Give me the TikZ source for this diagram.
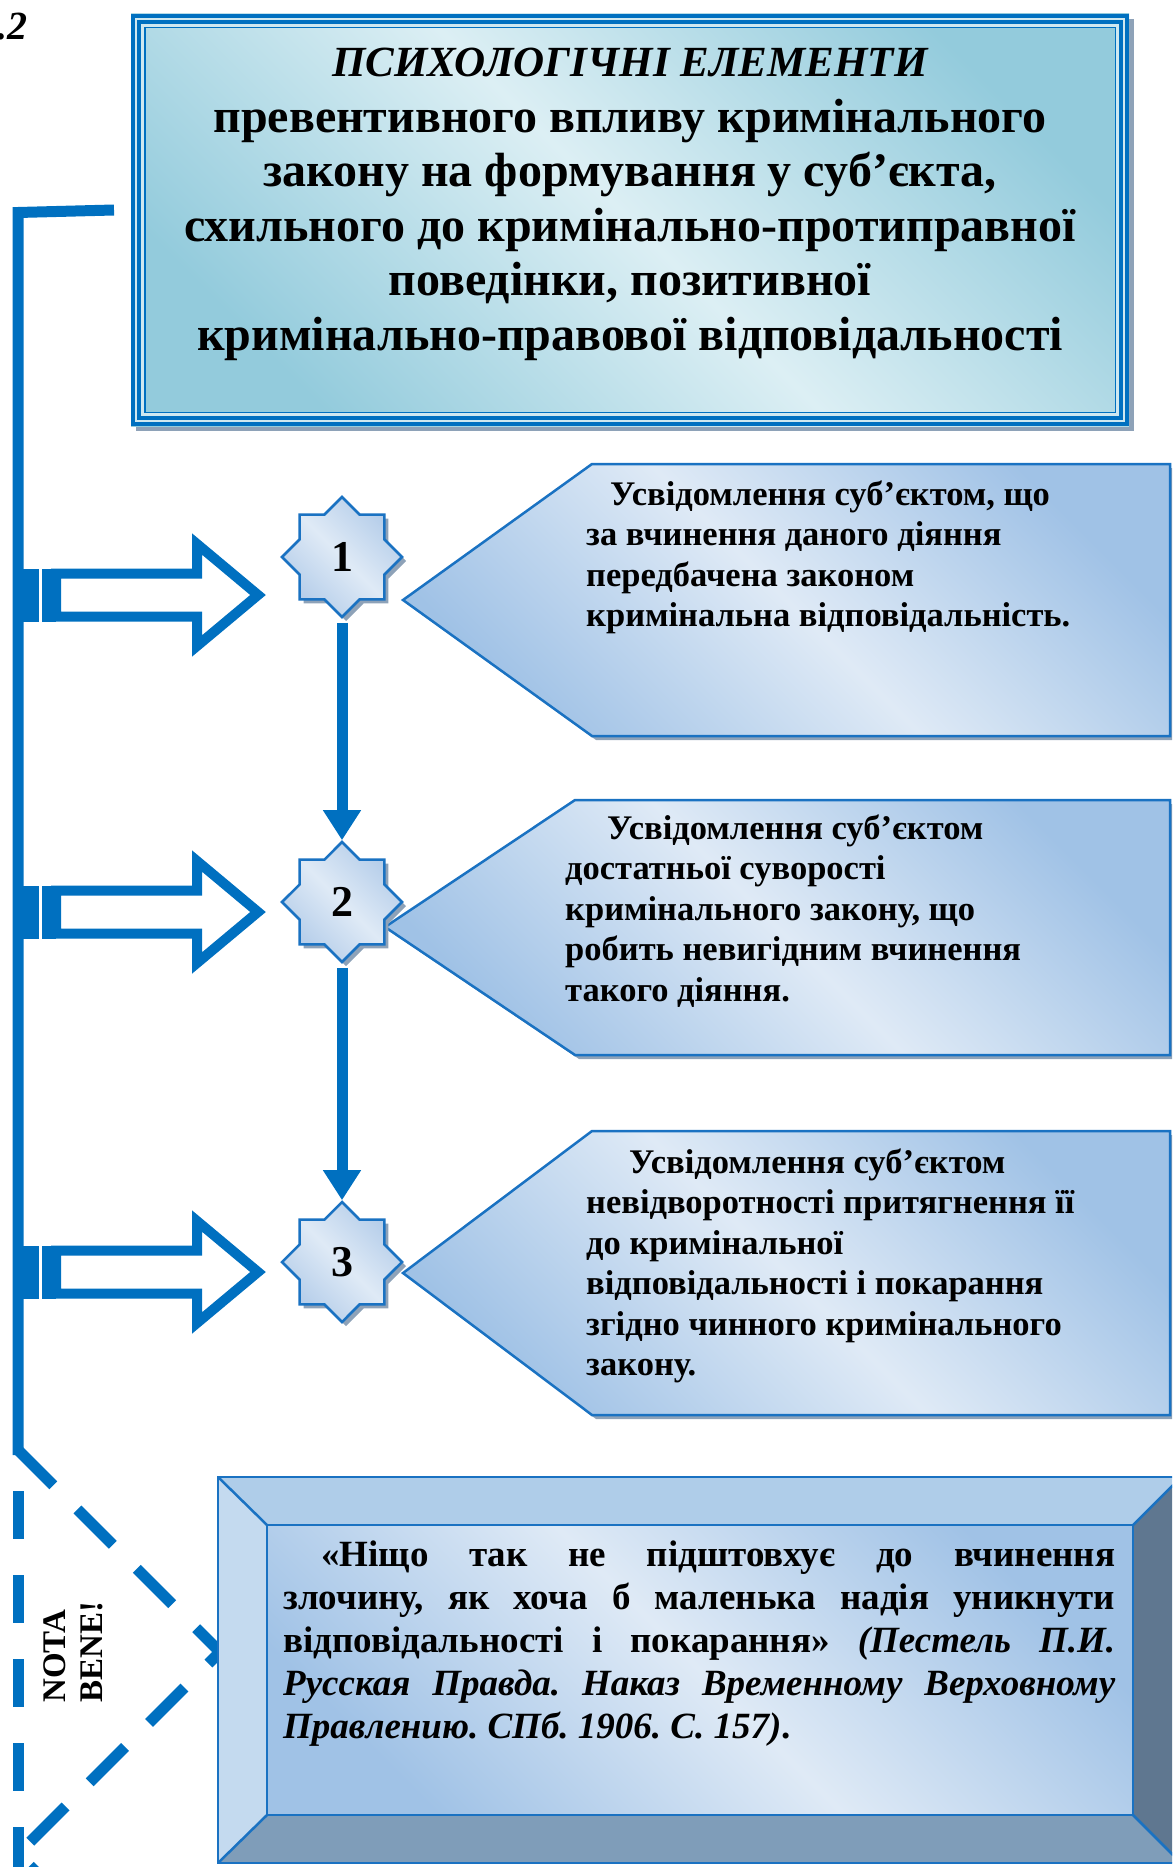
\documentclass[tikz,border=0pt]{standalone}
\usepackage{fontspec}
\setmainfont{Liberation Serif}
\usetikzlibrary{shapes.geometric,shadows,arrows.meta}
\definecolor{lineblue}{HTML}{0070C0}
\definecolor{edgeblue}{HTML}{1A72C2}
\definecolor{shgray}{HTML}{8EA2B8}
\definecolor{ttlight}{HTML}{DCEFF4}
\definecolor{ttdark}{HTML}{93CBDC}
\definecolor{ttline}{HTML}{CFE8F0}
\definecolor{cblight}{HTML}{DFEAF6}
\definecolor{cbdark}{HTML}{A0C2E6}
\definecolor{stdark}{HTML}{B3CCE9}
\definecolor{bvtop}{HTML}{AFCDE9}
\definecolor{bvleft}{HTML}{C4DAEF}
\definecolor{bvbottom}{HTML}{7F9DB9}
\definecolor{bvright}{HTML}{5F7790}
\frenchspacing
\newcommand\ttlfont{\fontsize{48}{54.5}\selectfont\bfseries}
\newcommand\cofont{\fontsize{34.5}{40.5}\selectfont\bfseries}
\newcommand\qtfont{\fontsize{37}{43}\selectfont\bfseries}
\newcommand\blkarrow[1]{%
  \begin{scope}[shift={(0,#1)}]
    \fill[lineblue] (18,-26.5) rectangle (39,26.5);
    \fill[lineblue] (42,-26.5) rectangle (56,26.5);
    \draw[lineblue, line width=10, fill=white, line join=miter]
      (56,-21.5) -- (197,-21.5) -- (197,-51) -- (258,0) -- (197,51) -- (197,21.5) -- (56,21.5) -- cycle;
  \end{scope}}
\begin{document}
\begin{tikzpicture}[x=1pt,y=-1pt,
  calloutbox/.style={draw=edgeblue,line width=2.5,top color=cbdark,bottom color=cbdark,middle color=cblight,shading angle=-45},
  starbox/.style={star, star points=8, star point ratio=1.307, minimum size=120pt, inner sep=0pt,
     draw=edgeblue, line width=2.5, top color=stdark, bottom color=stdark, middle color=cblight, shading angle=-45,
     drop shadow={shadow xshift=4pt, shadow yshift=-4pt, fill=shgray, opacity=1},
     font=\fontsize{44}{44}\selectfont\bfseries},
  txt/.style={inner sep=0pt, anchor=base west},
  ctxt/.style={inner sep=0pt, anchor=base},
  conn/.style={lineblue, line width=11, -{Triangle[length=30pt,width=36pt]}},
  bev/.style={draw=edgeblue, line width=2.5}
]
\useasboundingbox (0,0) rectangle (1172,1867);
\clip (0,0) rectangle (1172,1867);

% figure number fragment
\node[txt, font=\fontsize{40}{40}\selectfont\bfseries\itshape] (fig) at (-3,40) {.2};

% title box
\fill[shgray] (136,19) rectangle (1134,431);
\path[top color=ttdark, bottom color=ttdark, middle color=ttlight, shading angle=-45] (131,14) rectangle (1129,426);
\draw[lineblue, line width=4] (133,16) rectangle (1127,424);
\draw[ttline, line width=2] (136,19) rectangle (1124,421);
\draw[lineblue, line width=4] (139,22) rectangle (1121,418);
\draw[ttline, line width=3] (142.5,25.5) rectangle (1117.5,414.5);
\draw[lineblue, line width=1.5] (144.75,27.75) rectangle (1115.25,412.25);
\node[ctxt, font=\fontsize{43}{43}\selectfont\bfseries\itshape] (t1) at (630,77) {ПСИХОЛОГІЧНІ ЕЛЕМЕНТИ};
\node[ctxt, font=\ttlfont] (t2) at (630,132.5) {превентивного впливу кримінального};
\node[ctxt, font=\ttlfont] (t3) at (630,187) {закону на формування у суб’єкта,};
\node[ctxt, font=\ttlfont] (t4) at (630,241.5) {схильного до кримінально-протиправної};
\node[ctxt, font=\ttlfont] (t5) at (630,296) {поведінки, позитивної};
\node[ctxt, font=\ttlfont] (t6) at (630,350.5) {кримінально-правової відповідальності};

% left bracket line
\draw[lineblue, line width=11, line join=miter] (114,210) -- (18,212.5) -- (18,1455);
\draw[lineblue, line width=11, dash pattern=on 48 off 36, dash phase=48] (18,1455) -- (18,1867);
\draw[lineblue, line width=11, dash pattern=on 50 off 34] (18,1450) -- (220,1652) -- (18,1854) -- (90,1926);

% callouts
\fill[shgray, shift={(4,4)}] (403,600) -- (592,464) -- (1170,464) -- (1170,736) -- (592,736) -- cycle;
\path[calloutbox] (403,600) -- (592,464) -- (1170,464) -- (1170,736) -- (592,736) -- cycle;
\fill[shgray, shift={(4,4)}] (385,927) -- (575,800) -- (1170,800) -- (1170,1055) -- (575,1055) -- cycle;
\path[calloutbox] (385,927) -- (575,800) -- (1170,800) -- (1170,1055) -- (575,1055) -- cycle;
\fill[shgray, shift={(4,4)}] (403,1273) -- (592,1131) -- (1170,1131) -- (1170,1415) -- (592,1415) -- cycle;
\path[calloutbox] (403,1273) -- (592,1131) -- (1170,1131) -- (1170,1415) -- (592,1415) -- cycle;

\node[txt, font=\cofont] (a1) at (610,505) {Усвідомлення суб’єктом, що};
\node[txt, font=\cofont] (a2) at (586,545.5) {за вчинення даного діяння};
\node[txt, font=\cofont] (a3) at (586,586) {передбачена законом};
\node[txt, font=\cofont] (a4) at (586,626.5) {кримінальна відповідальність.};

\node[txt, font=\cofont] (b1) at (607,839) {Усвідомлення суб’єктом};
\node[txt, font=\cofont] (b2) at (565,879.5) {достатньої суворості};
\node[txt, font=\cofont] (b3) at (565,920) {кримінального закону, що};
\node[txt, font=\cofont] (b4) at (565,960.5) {робить невигідним вчинення};
\node[txt, font=\cofont] (b5) at (565,1001) {такого діяння.};

\node[txt, font=\cofont] (c1) at (629,1173) {Усвідомлення суб’єктом};
\node[txt, font=\cofont] (c2) at (586,1213.5) {невідворотності притягнення її};
\node[txt, font=\cofont] (c3) at (586,1254) {до кримінальної};
\node[txt, font=\cofont] (c4) at (586,1294.5) {відповідальності і покарання};
\node[txt, font=\cofont] (c5) at (586,1335) {згідно чинного кримінального};
\node[txt, font=\cofont] (c6) at (586,1375.5) {закону.};

% block arrows
\blkarrow{595}
\blkarrow{912}
\blkarrow{1272}

% stars
\node[starbox] (s1) at (342,557) {1};
\node[starbox] (s2) at (342,902) {2};
\node[starbox] (s3) at (342,1262) {3};
\draw[conn] ([yshift=-4pt]s1.south) -- (s2.north);
\draw[conn] ([yshift=-4pt]s2.south) -- (s3.north);

% bevel box
\fill[bvtop] (218,1477) -- (1181,1477) -- (1133,1525) -- (267,1525) -- cycle;
\fill[bvleft] (218,1477) -- (267,1525) -- (267,1815) -- (218,1863) -- cycle;
\fill[bvbottom] (218,1863) -- (267,1815) -- (1133,1815) -- (1181,1863) -- cycle;
\fill[bvright] (1181,1477) -- (1133,1525) -- (1133,1815) -- (1181,1863) -- cycle;
\path[top color=cbdark, bottom color=cbdark, middle color=cblight, shading angle=-45] (267,1525) rectangle (1133,1815);
\draw[bev] (218,1477) rectangle (1181,1863);
\draw[bev] (267,1525) rectangle (1133,1815);
\draw[bev] (218,1477) -- (267,1525);
\draw[bev] (218,1863) -- (267,1815);
\draw[bev] (1181,1477) -- (1133,1525);
\draw[bev] (1181,1863) -- (1133,1815);

\node[txt, font=\qtfont] (q1) at (321,1566.5) {\makebox[794pt][s]{«Ніщо так не підштовхує до вчинення}};
\node[txt, font=\qtfont] (q2) at (283,1609.5) {\makebox[832pt][s]{злочину, як хоча б маленька надія уникнути}};
\node[txt, font=\qtfont] (q3) at (283,1652.5) {\makebox[832pt][s]{відповідальності і покарання» \textit{(Пестель П.И.}}};
\node[txt, font=\qtfont\itshape] (q4) at (283,1695.5) {\makebox[832pt][s]{Русская Правда. Наказ Временному Верховному}};
\node[txt, font=\qtfont] (q5) at (283,1738.5) {\textit{Правлению. СПб. 1906. С. 157)}.};

% NOTA BENE
\node[txt, rotate=90, font=\fontsize{33}{33}\selectfont\bfseries] (nb1) at (65,1703) {NOTA};
\node[txt, rotate=90, font=\fontsize{33}{33}\selectfont\bfseries] (nb2) at (102,1703) {BENE!};
\end{tikzpicture}
\end{document}
